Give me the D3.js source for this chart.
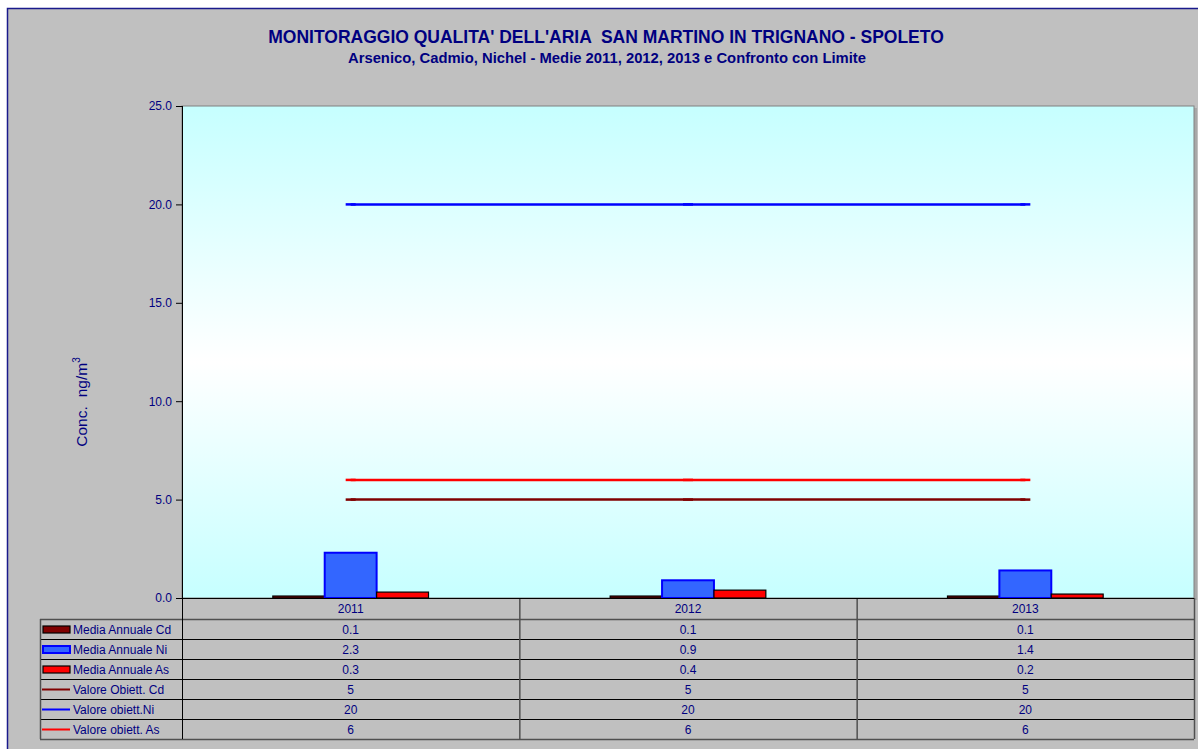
<!DOCTYPE html>
<html>
<head>
<meta charset="utf-8">
<script src="https://cdn.jsdelivr.net/npm/d3@7"></script>
<style>
  body { margin: 0; background: #ffffff; }
  text { font-family: "Liberation Sans", Arial, sans-serif; }
</style>
</head>
<body>
<script>
// data
var years = ['2011', '2012', '2013'];
var barSeries = ['Media Annuale Cd', 'Media Annuale Ni', 'Media Annuale As'];
var lineSeries = ['Valore Obiett. Cd', 'Valore obiett.Ni', 'Valore obiett. As'];
var mediaCd = [0.1, 0.1, 0.1];
var mediaNi = [2.3, 0.9, 1.4];
var mediaAs = [0.3, 0.4, 0.2];
var limiteCd = [5, 5, 5];
var limiteNi = [20, 20, 20];
var limiteAs = [6, 6, 6];
var yTicks = [0, 5, 10, 15, 20, 25];

var barValues = [mediaCd, mediaNi, mediaAs];
var lineValues = [limiteCd, limiteNi, limiteAs];
var barFill = ['#800000', '#3366ff', '#ff0000'];
var barStroke = ['#000000', '#0000ff', '#000000'];
var lineColor = ['#800000', '#0000ff', '#ff0000'];

var width = 1198, height = 749;
var navy = '#000080';

var svg = d3.select('body').append('svg')
    .attr('width', width)
    .attr('height', height);

// chart background + border
svg.append('rect')
    .attr('x', 7.5).attr('y', 8.5)
    .attr('width', 1200).attr('height', 760)
    .attr('fill', '#c0c0c0')
    .attr('stroke', '#1a1a8c')
    .attr('stroke-width', 1.5);

// titles
svg.append('text')
    .attr('x', 606).attr('y', 43)
    .attr('text-anchor', 'middle')
    .attr('fill', navy)
    .attr('font-weight', 'bold')
    .attr('font-size', 17.5)
    .style('white-space', 'pre')
    .text("MONITORAGGIO QUALITA' DELL'ARIA  SAN MARTINO IN TRIGNANO - SPOLETO");
svg.append('text')
    .attr('x', 607).attr('y', 63)
    .attr('text-anchor', 'middle')
    .attr('fill', navy)
    .attr('font-weight', 'bold')
    .attr('font-size', 14.8)
    .text('Arsenico, Cadmio, Nichel - Medie 2011, 2012, 2013 e Confronto con Limite');

var plot = { left: 182, top: 106, right: 1194, bottom: 598 };

var x0 = d3.scaleBand()
    .domain(years)
    .range([plot.left, plot.right])
    .paddingInner(0).paddingOuter(0);

var x1 = d3.scaleBand()
    .domain(barSeries)
    .range([0, x0.bandwidth()])
    .paddingInner(0)
    .paddingOuter(1.75);

var y = d3.scaleLinear()
    .domain([0, 25])
    .range([plot.bottom, plot.top]);

// plot area gradient
var defs = svg.append('defs');
var grad = defs.append('linearGradient')
    .attr('id', 'bg')
    .attr('x1', 0).attr('y1', 0).attr('x2', 0).attr('y2', 1);
grad.append('stop').attr('offset', '0%').attr('stop-color', '#c6ffff');
grad.append('stop').attr('offset', '52%').attr('stop-color', '#ffffff');
grad.append('stop').attr('offset', '100%').attr('stop-color', '#c6ffff');

// shadow on the right
svg.append('rect')
    .attr('x', plot.right).attr('y', plot.top + 2)
    .attr('width', 3).attr('height', plot.bottom - plot.top)
    .attr('fill', '#a8a8a8');

svg.append('rect')
    .attr('x', plot.left).attr('y', plot.top)
    .attr('width', plot.right - plot.left)
    .attr('height', plot.bottom - plot.top)
    .attr('fill', 'url(#bg)')
    .attr('stroke', '#808080')
    .attr('stroke-width', 1);

// bars
var groups = svg.append('g').selectAll('g')
    .data(years)
    .join('g')
    .attr('transform', function(d) { return 'translate(' + x0(d) + ',0)'; });

groups.selectAll('rect')
    .data(function(d, i) {
        return barSeries.map(function(s, k) { return { s: s, k: k, v: barValues[k][i] }; });
    })
    .join('rect')
    .attr('x', function(d) { return x1(d.s); })
    .attr('y', function(d) { return y(d.v); })
    .attr('width', x1.bandwidth())
    .attr('height', function(d) { return y(0) - y(d.v); })
    .attr('fill', function(d) { return barFill[d.k]; })
    .attr('stroke', function(d) { return barStroke[d.k]; })
    .attr('stroke-width', function(d) { return d.k === 1 ? 2 : 1.2; });

// limit lines
var line = d3.line()
    .x(function(d, i) { return x0(years[i]) + x0.bandwidth() / 2; })
    .y(function(d) { return y(d); });

lineValues.forEach(function(vals, k) {
    svg.append('path')
        .datum(vals)
        .attr('d', line)
        .attr('fill', 'none')
        .attr('stroke', lineColor[k])
        .attr('stroke-width', 2.5);
    // dash markers
    svg.append('g').selectAll('line')
        .data(vals)
        .join('line')
        .attr('x1', function(d, i) { return x0(years[i]) + x0.bandwidth() / 2 - 5; })
        .attr('x2', function(d, i) { return x0(years[i]) + x0.bandwidth() / 2 + 5; })
        .attr('y1', function(d) { return y(d); })
        .attr('y2', function(d) { return y(d); })
        .attr('stroke', lineColor[k])
        .attr('stroke-width', 2.5);
});

// y axis
var yAxis = svg.append('g')
    .attr('transform', 'translate(' + plot.left + ',0)')
    .call(d3.axisLeft(y).tickValues(yTicks).tickFormat(d3.format('.1f')).tickSize(6).tickPadding(4));
yAxis.select('.domain').attr('stroke', '#000');
yAxis.selectAll('.tick line').attr('stroke', '#000');
yAxis.selectAll('.tick text')
    .attr('fill', navy)
    .attr('font-size', 12)
    .attr('font-family', '"Liberation Sans", Arial, sans-serif');

// y title
var yt = svg.append('text')
    .attr('transform', 'translate(87,' + 402 + ') rotate(-90)')
    .attr('text-anchor', 'middle')
    .attr('fill', navy)
    .attr('font-size', 15.5);
yt.append('tspan').text('Conc.');
yt.append('tspan').attr('dx', 9).text('ng/m');
yt.append('tspan').attr('font-size', 10).attr('dy', -7).text('3');

// data table
var rowH = 20;
var headerTop = plot.bottom, headerBottom = plot.bottom + 21;
var tableLeft = 40;
var tableBottom = headerBottom + rowH * 6;
var tbl = svg.append('g');

// header (years)
tbl.selectAll('text.year')
    .data(years)
    .join('text')
    .attr('class', 'year')
    .attr('x', function(d) { return x0(d) + x0.bandwidth() / 2; })
    .attr('y', headerTop + 15)
    .attr('text-anchor', 'middle')
    .attr('fill', navy)
    .attr('font-size', 12)
    .text(function(d) { return d; });

var rowNames = barSeries.concat(lineSeries);
var rowVals = barValues.concat(lineValues);

rowNames.forEach(function(name, r) {
    var top = headerBottom + r * rowH;
    tbl.selectAll(null)
        .data(rowVals[r])
        .join('text')
        .attr('x', function(d, i) { return x0(years[i]) + x0.bandwidth() / 2; })
        .attr('y', top + 15)
        .attr('text-anchor', 'middle')
        .attr('fill', navy)
        .attr('font-size', 12)
        .text(function(d) { return d; });
    tbl.append('text')
        .attr('x', 73).attr('y', top + 15)
        .attr('fill', navy)
        .attr('font-size', 12)
        .text(name);
    if (r < 3) {
        tbl.append('rect')
            .attr('x', 43).attr('y', top + 7)
            .attr('width', 27).attr('height', 7)
            .attr('fill', barFill[r])
            .attr('stroke', barStroke[r])
            .attr('stroke-width', r === 1 ? 2 : 1.2);
    } else {
        tbl.append('line')
            .attr('x1', 42).attr('x2', 70)
            .attr('y1', top + 10.5).attr('y2', top + 10.5)
            .attr('stroke', lineColor[r - 3])
            .attr('stroke-width', 2);
    }
});

// table grid
var hLines = d3.range(7).map(function(i) { return headerBottom + i * rowH; });
tbl.selectAll('line.h')
    .data(hLines)
    .join('line')
    .attr('x1', tableLeft).attr('x2', plot.right)
    .attr('y1', function(d) { return d + 0.5; })
    .attr('y2', function(d) { return d + 0.5; })
    .attr('stroke', function(d, i) { return (i === 0 || i === 6) ? '#505050' : '#000'; })
    .attr('stroke-width', function(d, i) { return (i === 0 || i === 6) ? 1.5 : 1; });

var vLines = years.map(function(d) { return x0(d); }).concat([plot.right]);
tbl.selectAll('line.v')
    .data(vLines)
    .join('line')
    .attr('x1', function(d) { return d + 0.5; })
    .attr('x2', function(d) { return d + 0.5; })
    .attr('y1', function(d, i) { return i === 0 ? plot.top : headerTop; })
    .attr('y2', tableBottom)
    .attr('stroke', function(d, i) { return i === 0 ? '#000' : '#505050'; })
    .attr('stroke-width', function(d, i) { return i === 0 ? 1 : 1.5; });

tbl.append('line')
    .attr('x1', tableLeft + 0.5).attr('x2', tableLeft + 0.5)
    .attr('y1', headerBottom).attr('y2', tableBottom)
    .attr('stroke', '#505050').attr('stroke-width', 1.5);

// x axis line
svg.append('line')
    .attr('x1', plot.left).attr('x2', plot.right)
    .attr('y1', plot.bottom + 0.5).attr('y2', plot.bottom + 0.5)
    .attr('stroke', '#000');
</script>
</body>
</html>
